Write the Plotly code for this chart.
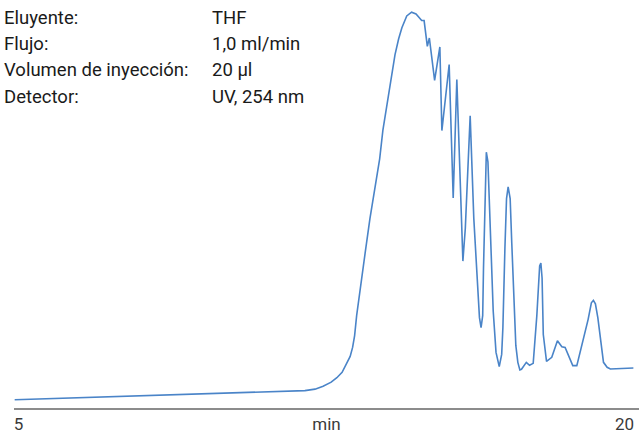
import plotly.graph_objects as go

# Chromatogram trace: retention time (min) and detector response (arbitrary units)
time_min = [
    4.906, 12.09, 12.34, 12.54, 12.74, 12.88, 13.01, 13.12, 13.21, 13.27,
    13.32, 13.37, 13.45, 13.58, 13.70, 13.82, 13.94, 14.02, 14.12, 14.20,
    14.32, 14.41, 14.49, 14.61, 14.73, 14.84, 14.94, 14.98, 15.04, 15.12,
    15.17, 15.30, 15.43, 15.48, 15.66, 15.76, 15.85, 16.00, 16.06, 16.18,
    16.27, 16.35, 16.41, 16.45, 16.49, 16.51, 16.55, 16.58, 16.62, 16.67,
    16.75, 16.82, 16.90, 16.96, 16.99, 17.04, 17.08, 17.12, 17.17, 17.21,
    17.25, 17.31, 17.36, 17.41, 17.45, 17.57, 17.65, 17.74, 17.83, 17.90,
    17.93, 17.96, 17.99, 18.07, 18.20, 18.34, 18.45, 18.53, 18.72, 18.82,
    19.10, 19.18, 19.23, 19.28, 19.34, 19.48, 19.57, 19.65, 20.22,
]
signal = [
    8.3, 17.5, 19.0, 22.0, 26.0, 30.5, 36.0, 44.0, 52.0, 61.0,
    73.0, 93.0, 119.0, 156.0, 191.0, 221.0, 251.0, 280.0, 307.0, 326.0,
    356.0, 372.0, 383.0, 395.0, 398.7, 397.0, 391.7, 390.3, 390.3, 364.3,
    372.7, 330.0, 363.7, 279.5, 346.0, 211.5, 331.0, 148.0, 181.0, 294.3,
    191.0, 126.0, 91.0, 81.0, 93.0, 141.0, 221.0, 257.7, 248.0, 181.0,
    98.0, 56.0, 41.7, 54.0, 81.0, 161.0, 211.0, 222.7, 211.0, 166.0,
    116.0, 63.0, 46.0, 38.3, 39.0, 46.0, 43.0, 45.0, 93.0, 143.0,
    146.0, 131.0, 74.0, 47.0, 51.0, 67.7, 61.7, 61.0, 42.7, 42.7,
    89.3, 106.0, 108.5, 105.0, 91.0, 46.0, 41.0, 39.3, 40.3,
]

# Axis settings
x_range = [4.889, 20.359]
tick_text = ["5", "min", "20"]

# Method conditions printed in the upper-left corner
cond_labels = ["Eluyente:", "Flujo:", "Volumen de inyección:", "Detector:"]
cond_values = ["THF", "1,0 ml/min", "20 µl", "UV, 254 nm"]

FONT = "Roboto, Liberation Sans, sans-serif"

fig = go.Figure()
fig.add_trace(go.Scatter(
    x=time_min, y=signal, mode="lines",
    line=dict(color="#4a84c8", width=1.6),
    hoverinfo="skip", showlegend=False,
))

x_mid = (x_range[0] + x_range[1]) / 2
fig.update_xaxes(
    range=x_range, showgrid=False, zeroline=False,
    showline=True, linecolor="#8c8c8c", linewidth=2,
    tickvals=[5, x_mid, 20], ticktext=tick_text, ticks="",
    tickfont=dict(family=FONT, size=17, color="#3a3a3a"),
)
fig.update_yaxes(range=[0, 411], visible=False, showgrid=False, zeroline=False)

row_y = [18, 44.5, 71, 97.5]
for label, value, py in zip(cond_labels, cond_values, row_y):
    yp = 1 - py / 411
    fig.add_annotation(
        x=-0.019, y=yp, xref="paper", yref="paper", text=label,
        showarrow=False, xanchor="left", yanchor="middle",
        font=dict(family=FONT, size=18.5, color="#1a1a1a"),
    )
    fig.add_annotation(
        x=0.3136, y=yp, xref="paper", yref="paper", text=value,
        showarrow=False, xanchor="left", yanchor="middle",
        font=dict(family=FONT, size=18.5, color="#1a1a1a"),
    )

fig.update_layout(
    width=639, height=434,
    margin=dict(l=14, r=0, t=0, b=23),
    paper_bgcolor="white", plot_bgcolor="white",
)

fig.write_html("out.html")
